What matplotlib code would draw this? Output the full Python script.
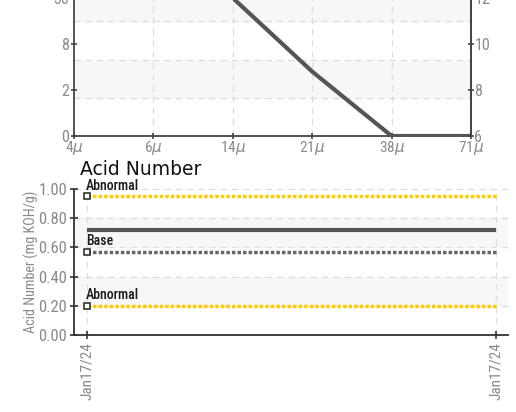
"""
Particle count (cropped) + Acid Number trend chart
"""
import matplotlib
matplotlib.use('Agg')
import matplotlib.pyplot as plt

plt.rcParams['font.family'] = ['Roboto Condensed', 'DejaVu Sans']

# particle count data (ISO code scale on right axis)
sizes = ['4$\\mu$', '6$\\mu$', '14$\\mu$', '21$\\mu$', '38$\\mu$', '71$\\mu$']
iso_codes = [16.0, 14.6, 12.0, 8.8, 6.0, 6.0]
left_ticks = [6, 8, 10, 12]
left_labels = ['0', '2', '8', '30']
right_labels = ['6', '8', '10', '12']

# acid number data
dates = ['Jan17/24', 'Jan17/24']
acid_values = [0.72, 0.72]
abnormal_high = [0.95, 0.95]
base_values = [0.57, 0.57]
abnormal_low = [0.20, 0.20]

GRAY_TXT = '#8a8a8a'
LINE = '#555555'
YELLOW = '#FFCC00'
BAND = '#f7f7f7'
GRID = '#dddddd'

fig = plt.figure(figsize=(5.16, 4.12), dpi=100)

# ---------- top chart (cropped at top) ----------
ax1 = fig.add_axes([74 / 516, 1 - 136 / 412, (471 - 74) / 516, 153 / 412])
ymin, ymax = 6, 12.65
ax1.set_ylim(ymin, ymax)
ax1.set_xlim(0, len(sizes) - 1)
step = (ymax - ymin) / 4
for k in range(4):
    lo = ymin + k * step
    if k % 2 == 1:
        ax1.axhspan(lo, lo + step, color=BAND, zorder=0)
    if k > 0:
        ax1.axhline(lo, color=GRID, ls=(0, (5, 4)), lw=0.9, zorder=1)
for i in range(1, len(sizes) - 1):
    ax1.axvline(i, color=GRID, ls=(0, (5, 4)), lw=0.9, zorder=1)
ax1.plot(range(len(sizes)), iso_codes, color=LINE, lw=3, zorder=3,
         solid_capstyle='butt')
ax1.set_xticks(range(len(sizes)))
ax1.set_xticklabels(sizes, fontsize=11, color=GRAY_TXT)
ax1.set_yticks(left_ticks)
ax1.set_yticklabels(left_labels, fontsize=11.5, color=GRAY_TXT)
ax1.tick_params(axis='y', direction='inout', length=5, width=1.2,
                color='#444444', pad=1)
ax1.tick_params(axis='x', direction='inout', length=5, width=1.2,
                color='#444444', pad=0)
ax1r = ax1.twinx()
ax1r.set_ylim(ymin, ymax)
ax1r.set_yticks(left_ticks)
ax1r.set_yticklabels(right_labels, fontsize=11.5, color=GRAY_TXT)
ax1r.tick_params(axis='y', direction='inout', length=5, width=1.2,
                 color='#444444', pad=0)
for a in (ax1, ax1r):
    a.spines['top'].set_visible(False)
    for s in ('left', 'right', 'bottom'):
        a.spines[s].set_color('#444444')
        a.spines[s].set_linewidth(1.3)
ax1r.spines['left'].set_visible(False)
ax1r.spines['bottom'].set_visible(False)

# ---------- Acid Number chart ----------
fig.text(80 / 516, 1 - 175 / 412, 'Acid Number', fontsize=13.5,
         family='DejaVu Sans', color='#111111', va='baseline')

ax2 = fig.add_axes([74 / 516, 1 - 335 / 412, (508 - 74) / 516, 146 / 412])
ax2.set_ylim(0, 1.0)
ax2.set_xlim(-0.032, 1.029)
for lo in (0.2, 0.6):
    ax2.axhspan(lo, lo + 0.2, color=BAND, zorder=0)
for v in (0.2, 0.4, 0.6, 0.8, 1.0):
    ax2.axhline(v, color=GRID, ls=(0, (5, 4)), lw=0.9, zorder=1, clip_on=False)
for i in range(len(dates)):
    ax2.axvline(i, color=GRID, ls=(0, (5, 4)), lw=0.9, zorder=1)

x = range(len(dates))
ax2.plot(x, acid_values, color=LINE, lw=3, zorder=3, solid_capstyle='butt')
dotted = (0, (1, 0.6))
for vals, col, name in [(abnormal_high, YELLOW, 'Abnormal'),
                        (base_values, '#666666', 'Base'),
                        (abnormal_low, YELLOW, 'Abnormal')]:
    ax2.plot(x, vals, color=col, lw=2.5, ls=dotted, zorder=3)
    ax2.plot([0], [vals[0]], marker='s', ms=4.5, mfc='white', mec='#222222',
             mew=1.1, zorder=4, ls='none')
    ax2.annotate(name, (0, vals[0]), xytext=(-1, 2.5), textcoords='offset points',
                 fontsize=10, color='#1a1a1a', va='bottom', ha='left',
                 fontweight='medium', zorder=5)

ax2.set_yticks([0, 0.2, 0.4, 0.6, 0.8, 1.0])
ax2.set_yticklabels(['0.00', '0.20', '0.40', '0.60', '0.80', '1.00'],
                    fontsize=12, color=GRAY_TXT)
ax2.set_xticks(list(x))
ax2.set_xticklabels(dates, rotation=90, fontsize=11, color=GRAY_TXT)
ax2.tick_params(axis='both', direction='inout', length=6, width=1.2,
                color='#333333', pad=2)
ax2.set_ylabel('Acid Number (mg KOH/g)', fontsize=10.2, color=GRAY_TXT)
ax2.yaxis.set_label_coords((39 - 74) / 434, 0.5)
ax2.spines['top'].set_visible(False)
ax2.spines['right'].set_visible(False)
for s in ('left', 'bottom'):
    ax2.spines[s].set_color('#333333')
    ax2.spines[s].set_linewidth(1.3)

plt.savefig('out.png', dpi=100)
